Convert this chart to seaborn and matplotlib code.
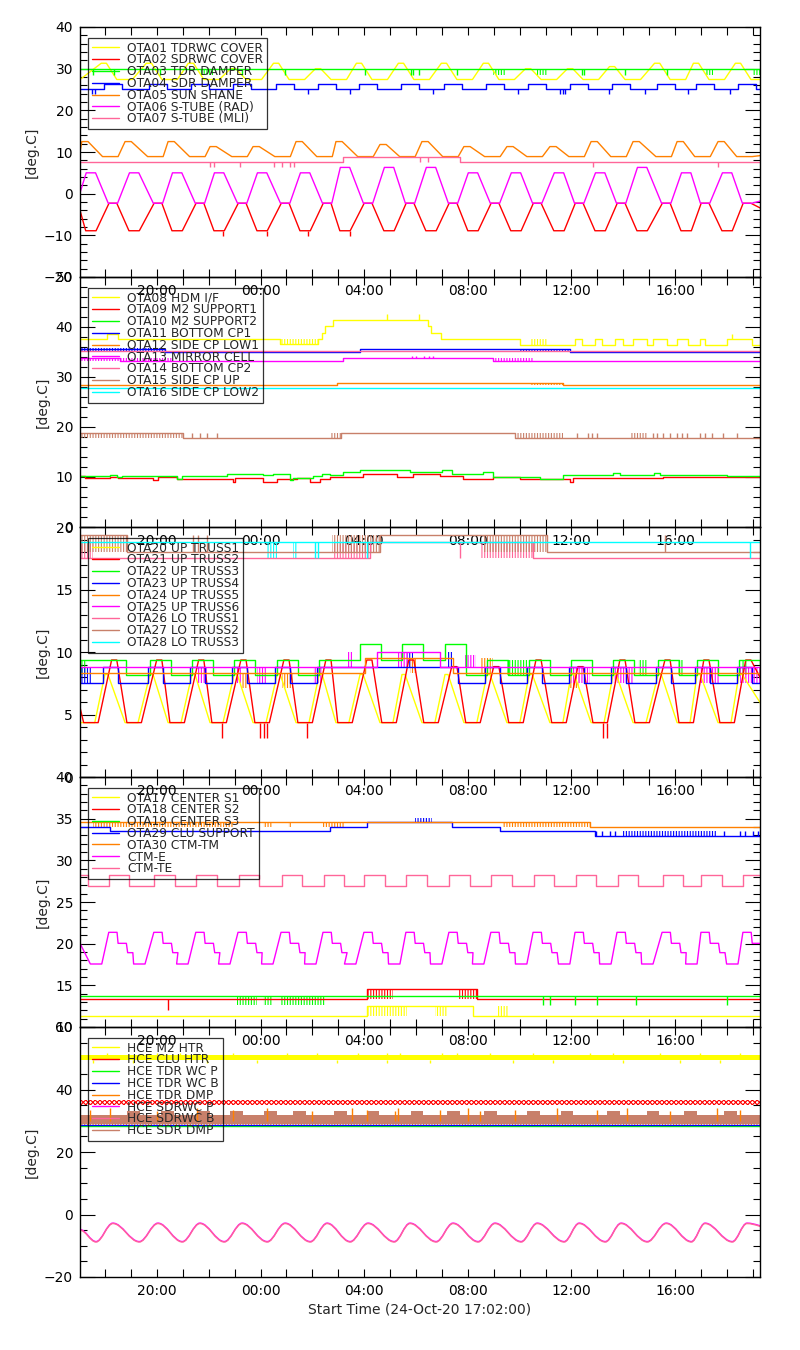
import numpy as np
import matplotlib
matplotlib.use("Agg")
import matplotlib.pyplot as plt
import seaborn as sns
from matplotlib.lines import Line2D
from matplotlib.path import Path
from matplotlib.patches import PathPatch
from matplotlib.ticker import MultipleLocator

# --- Config ---
OUT = "out.png"
XMIN, XMAX = 17.03, 43.28      # hours counted from 24-Oct 00:00
LW = 1.0

YEL = "#ffff00"
RED = "#ff0000"
GRN = "#00ff00"
BLU = "#0000ff"
ORG = "#ff8000"
MAG = "#ff00ff"
PNK = "#ff6699"
BRN = "#c8806a"
CYN = "#00ffff"

ORBIT_HI = [17.45, 19.12, 20.78, 22.40, 24.06, 25.72, 27.26, 28.96,
            30.58, 32.20, 33.86, 35.52, 37.11, 38.73, 40.43, 42.01]
ORBIT_LO = [18.30, 20.04, 21.66, 23.29, 24.95, 26.57, 28.15, 29.77,
            31.43, 33.05, 34.68, 36.30, 37.92, 39.66, 41.16, 42.78]

# ---------------- panel 1 ----------------
P1_NAMES = ["OTA01 TDRWC COVER", "OTA02 SDRWC COVER", "OTA03 TDR DAMPER",
            "OTA04 SDR DAMPER", "OTA05 SUN SHANE", "OTA06 S-TUBE (RAD)",
            "OTA07 S-TUBE (MLI)"]
P1_YEL_HI = [31.3, 31.3, 31.3, 30.0, 31.3, 30.0, 31.3, 31.3,
             31.3, 31.3, 30.0, 30.0, 30.5, 31.3, 31.3, 31.3]
P1_MAG_HI = [5.0, 5.0, 5.0, 5.0, 5.0, 5.0, 6.3, 6.3,
             6.3, 5.0, 5.0, 5.0, 5.0, 6.3, 5.0, 5.0]
P1_ORG_HI = [12.5, 12.5, 12.5, 11.3, 11.3, 12.5, 12.5, 11.8,
             12.5, 11.3, 11.3, 11.3, 12.5, 12.5, 12.5, 12.5]
P1_RED_DIP_T = [22.55, 24.25, 25.83, 27.45]
P1_GRN_NOISE = [(21.66, 22.16, 28.6, 29.85), (32.98, 33.44, 28.6, 29.85),
                (34.67, 35.06, 28.6, 29.85), (41.16, 41.47, 28.6, 29.85),
                (42.98, 43.28, 28.6, 29.85)]
P1_GRN_DIP_T = [17.53, 18.34, 20.12, 23.29, 24.95, 28.03, 29.80, 29.89,
                30.10, 31.59, 36.40, 36.50, 38.07, 39.69]
P1_BLU_DIP_T = [17.50, 17.60, 25.83, 27.45, 30.66, 33.94, 35.56, 35.66,
                35.76, 37.45, 38.84, 40.50, 42.13]
P1_PNK_T = [17.03, 27.19, 31.70]
P1_PNK_V = [7.7, 8.9, 7.7]
P1_PNK_DIP_T = [22.05, 22.20, 23.21, 24.52, 24.83, 25.14, 25.29, 36.84, 41.66]
P1_PNK_DIP2_T = [30.16, 30.47]

# ---------------- panel 2 ----------------
P2_NAMES = ["OTA08 HDM I/F", "OTA09 M2 SUPPORT1", "OTA10 M2 SUPPORT2",
            "OTA11 BOTTOM CP1", "OTA12 SIDE CP LOW1", "OTA13 MIRROR CELL",
            "OTA14 BOTTOM CP2", "OTA15 SIDE CP UP", "OTA16 SIDE CP LOW2"]
P2_YEL_T = [17.03, 18.07, 18.50, 24.75, 26.22, 26.37, 26.49, 26.80, 30.47,
            30.58, 30.97, 34.02, 36.14, 36.41, 36.91, 37.18, 37.68, 37.99,
            38.38, 38.92, 39.15, 39.69, 40.08, 40.50, 40.97, 41.16, 42.01, 42.98]
P2_YEL_V = [37.6, 38.7, 37.6, 36.6, 37.6, 38.8, 40.3, 41.5, 40.3,
            38.8, 37.6, 36.5, 37.6, 36.5, 37.6, 36.5, 37.6, 36.5,
            37.6, 36.5, 37.6, 36.5, 37.6, 36.5, 37.6, 36.5, 37.6, 36.5]
P2_YEL_NOISE = [(24.75, 26.22, 36.6, 37.7), (34.40, 35.10, 36.5, 37.6)]
P2_YEL_SPK = [(28.88, 41.5, 42.6), (30.12, 41.5, 42.6), (42.20, 37.6, 38.7)]
P2_RED_T = [17.03, 17.22, 18.19, 18.50, 19.85, 20.04, 20.77, 22.94, 23.01,
            24.10, 24.63, 25.41, 25.91, 26.30, 26.68, 27.96, 29.26, 29.90,
            30.93, 31.83, 32.99, 34.02, 35.95, 36.08, 39.55]
P2_RED_V = [10.2, 9.73, 10.07, 9.73, 9.4, 9.93, 9.53, 9.07, 9.73,
            9.07, 9.53, 9.73, 9.0, 9.53, 10.07, 10.6, 10.07, 10.6,
            10.2, 9.53, 10.07, 9.53, 9.0, 9.73, 9.93]
P2_GRN_T = [17.03, 18.19, 18.46, 18.65, 20.77, 20.96, 22.70, 24.10, 24.48,
            25.14, 25.25, 26.03, 26.37, 26.68, 27.18, 27.84, 29.77, 30.99,
            31.38, 32.60, 32.99, 34.79, 35.69, 37.62, 37.88, 39.17, 39.42, 42.00]
P2_GRN_V = [10.2, 10.4, 9.93, 10.2, 9.7, 10.2, 10.6, 10.4, 10.6,
            9.5, 9.9, 10.2, 10.6, 10.4, 11.07, 11.4, 11.07, 11.4,
            10.6, 11.07, 10.1, 9.7, 10.4, 10.9, 10.4, 10.9, 10.4, 10.2]
P2_BLU_T = [17.03, 20.31, 27.84, 35.95]
P2_BLU_V = [35.7, 35.1, 35.7, 35.1]
P2_BLU_NOISE = [(17.03, 20.31, 35.2, 35.8), (34.02, 35.95, 35.1, 35.7)]
P2_ORG_T = [17.03, 26.95, 35.68]
P2_ORG_V = [28.33, 28.73, 28.33]
P2_ORG_NOISE = [(34.40, 35.68, 28.33, 28.73)]
P2_MAG_T = [17.03, 18.57, 27.18, 32.99]
P2_MAG_V = [33.73, 33.2, 33.73, 33.2]
P2_MAG_NOISE = [(17.03, 20.60, 33.2, 33.73), (32.99, 34.52, 33.2, 33.73)]
P2_MAG_SPK_T = [29.85, 30.00, 30.30, 30.50, 30.65]
P2_PNK_V = 35.2
P2_BRN_T = [17.03, 21.01, 27.10, 33.83]
P2_BRN_V = [18.87, 17.73, 18.87, 17.73]
P2_BRN_NOISE = [(17.03, 21.01, 17.73, 18.87), (26.68, 27.10, 17.73, 18.87),
                (33.83, 35.68, 17.73, 18.87), (38.27, 38.92, 17.73, 18.87)]
P2_BRN_SPK_T = [21.35, 21.66, 21.93, 22.32, 36.22, 36.64, 36.80, 36.99, 39.15,
                39.30, 39.54, 39.81, 40.08, 40.25, 40.47, 40.97, 41.16, 41.43,
                41.86, 42.40]
P2_CYN_V = 27.73

# ---------------- panel 3 ----------------
P3_NAMES = ["OTA20 UP TRUSS1", "OTA21 UP TRUSS2", "OTA22 UP TRUSS3",
            "OTA23 UP TRUSS4", "OTA24 UP TRUSS5", "OTA25 UP TRUSS6",
            "OTA26 LO TRUSS1", "OTA27 LO TRUSS2", "OTA28 LO TRUSS3"]
P3_RED_HI = [9.36, 9.36, 9.36, 9.36, 9.36, 9.36, 9.36, 9.36,
             8.83, 8.83, 9.36, 8.83, 9.36, 9.36, 9.36, 9.36]
P3_RED_DIP_T = [22.51, 23.98, 24.12, 24.25, 25.79, 37.22, 37.38]
P3_GRN_HI = [9.36, 9.36, 9.36, 9.36, 9.36, 9.36, 10.61, 10.61,
             10.61, 9.36, 9.36, 9.36, 9.36, 9.36, 9.36, 9.36]
P3_GRN_LO = [8.16, 8.16, 8.16, 8.16, 8.16, 9.36, 9.36, 9.36,
             8.16, 8.16, 8.16, 8.16, 8.16, 8.16, 8.16, 8.16]
P3_GRN_NOISE = [(17.03, 17.30, 8.16, 9.36), (33.52, 34.29, 8.16, 9.36),
                (38.57, 38.92, 8.16, 9.36), (40.08, 40.31, 8.16, 9.36),
                (42.59, 42.82, 8.16, 9.36)]
P3_BLU_LO = [7.49, 7.49, 7.49, 7.49, 7.49, 8.83, 8.83, 8.83,
             7.49, 7.49, 7.49, 7.49, 7.49, 7.49, 7.49, 7.49]
P3_BLU_NOISE = [(17.03, 17.50, 7.49, 8.83), (29.66, 29.89, 8.83, 10.03),
                (31.20, 31.40, 8.83, 10.03)]
P3_ORG_T = [17.03, 28.03, 31.44]
P3_ORG_V = [8.29, 9.55, 8.29]
P3_ORG_NOISE = [(23.28, 23.52, 7.16, 8.29), (24.83, 25.25, 7.16, 8.29),
                (35.90, 36.30, 7.16, 8.29), (29.77, 30.04, 8.29, 9.55),
                (32.47, 32.98, 8.29, 9.55)]
P3_MAG_T = [17.03, 28.50, 30.93]
P3_MAG_V = [8.83, 10.03, 8.83]
P3_MAG_NOISE = [(21.55, 21.93, 7.49, 8.83), (23.10, 23.30, 7.49, 8.83),
                (23.86, 24.25, 7.49, 8.83), (26.03, 26.41, 7.49, 8.83),
                (27.34, 27.57, 8.83, 10.03), (29.30, 29.70, 8.83, 10.03),
                (31.90, 32.30, 8.83, 9.80), (35.95, 36.72, 7.49, 8.83),
                (37.61, 38.38, 7.49, 8.83), (40.97, 41.74, 7.49, 8.83),
                (42.51, 43.28, 7.49, 8.83)]
P3_PNK_T = [17.03, 28.23, 34.52]
P3_PNK_V = [17.49, 18.83, 17.49]
P3_PNK_NOISE = [(17.03, 17.53, 17.49, 18.83), (26.80, 28.23, 17.49, 18.83),
                (32.47, 34.52, 17.49, 18.83)]
P3_BRN_T = [17.03, 18.84, 28.61, 35.06]
P3_BRN_V = [19.36, 18.03, 19.36, 18.03]
P3_BRN_NOISE = [(17.03, 18.84, 18.03, 19.36), (26.76, 28.61, 18.03, 19.36),
                (32.59, 35.06, 18.03, 19.36)]
P3_BRN_SPK_T = [21.39, 21.60, 21.93, 39.62]
P3_CYN_V = 18.83
P3_CYN_NOISE = [(24.25, 24.67, 17.49, 18.83), (25.25, 25.45, 17.49, 18.83)]
P3_CYN_SPK_T = [26.10, 26.20, 28.11, 42.90]

# ---------------- panel 4 ----------------
P4_NAMES = ["OTA17 CENTER S1", "OTA18 CENTER S2", "OTA19 CENTER S3",
            "OTA29 CLU SUPPORT", "OTA30 CTM-TM", "CTM-E", "CTM-TE"]
P4_YEL_T = [17.03, 28.11, 32.20]
P4_YEL_V = [11.36, 12.56, 11.36]
P4_YEL_NOISE = [(28.11, 29.66, 11.36, 12.56), (30.74, 31.20, 11.36, 12.56),
                (33.13, 33.56, 11.36, 12.56)]
P4_RED_T = [17.03, 28.11, 32.36]
P4_RED_V = [13.32, 14.56, 13.32]
P4_RED_NOISE = [(28.11, 29.11, 13.32, 14.56), (31.62, 32.36, 13.32, 14.56)]
P4_GRN_V = 13.76
P4_GRN_NOISE = [(23.08, 23.85, 12.64, 13.76), (24.11, 24.49, 12.64, 13.76),
                (24.75, 26.49, 12.64, 13.76)]
P4_GRN_SPK_T = [34.90, 35.18, 36.14, 36.99, 38.50, 42.01]
P4_BLU_T = [17.03, 18.19, 26.68, 28.11, 31.40, 33.25, 36.91]
P4_BLU_V = [33.96, 33.52, 33.96, 34.56, 33.96, 33.52, 32.92]
P4_BLU_NOISE = [(38.00, 41.60, 32.92, 33.52), (29.96, 30.62, 34.56, 35.12)]
P4_BLU_SPK_T = [36.95, 37.20, 37.50, 37.70, 41.90, 42.50, 42.70, 43.00, 43.20]
P4_ORG_T = [17.03, 36.72]
P4_ORG_V = [34.64, 34.04]
P4_ORG_NOISE = [(17.53, 22.94, 34.04, 34.64), (24.10, 24.49, 34.04, 34.64),
                (25.06, 25.22, 34.04, 34.64), (26.37, 27.26, 34.04, 34.64),
                (33.36, 36.72, 34.04, 34.64)]

# ---------------- panel 5 ----------------
P5_NAMES = ["HCE M2 HTR", "HCE CLU HTR", "HCE TDR WC P", "HCE TDR WC B",
            "HCE TDR DMP", "HCE SDRWC P", "HCE SDRWC B", "HCE SDR DMP"]
P5_YEL_UP_T = [18.07, 20.00, 20.89, 22.94, 25.02, 26.18, 27.76, 28.88, 29.39,
               31.01, 31.59, 32.86, 34.52, 36.72, 37.61, 39.42, 40.97, 42.51]
P5_YEL_DN_T = [17.53, 19.08, 21.93, 23.86, 26.95, 28.88, 30.54, 33.75, 35.29,
               37.99, 40.20, 41.74]
P5_ORG_SPK_T = [17.42, 18.19, 20.00, 21.55, 22.94, 24.25, 25.99, 27.53, 28.11,
                29.19, 29.31, 30.93, 32.01, 32.47, 33.83, 35.45, 36.99, 38.15,
                39.81, 41.63, 42.51]
P5_ORG_SPK_V = [33.5, 34.2, 33.0, 34.2, 33.5, 34.2, 33.0, 34.2, 33.5,
                33.0, 34.2, 33.5, 34.2, 33.0, 33.5, 34.2, 33.5, 34.2,
                33.0, 34.2, 33.5]
P5_BRN_BLOB_T = [19.08, 20.39, 21.78, 23.08, 24.37, 25.52, 27.07, 28.34, 30.04,
                 31.43, 32.86, 34.52, 35.83, 37.61, 39.15, 40.58, 42.13]
P5_SINE_PEAK = -2.9
P5_SINE_TROUGH = -8.8


def shift(times, dt):
    return [t + dt for t in times]


def trace(groups, start, end):
    # plateaus (centre, value, half width) joined by straight ramps
    ev = []
    for times, vals, half in groups:
        if np.isscalar(vals):
            vals = [vals] * len(times)
        ev += [(t, v, half) for t, v in zip(times, vals)]
    ev.sort()
    t, v = [XMIN], [start]
    for c, val, h in ev:
        t += [c - h, c + h]
        v += [val, val]
    return t + [XMAX + 0.5], v + [end]


def square(centers, half, hi, lo, v0):
    n = len(centers)
    hi = [hi] * n if np.isscalar(hi) else hi
    lo = [lo] * n if np.isscalar(lo) else lo
    t, v = [XMIN - 1], [v0]
    for c, a, b in zip(centers, hi, lo):
        t += [c - half, c + half]
        v += [a, b]
    return t, v


def ramp(ax, tv, color):
    t, v = tv
    sns.lineplot(x=t, y=v, ax=ax, color=color, lw=LW, estimator=None, sort=False)


def steps(ax, t, v, color):
    if np.isscalar(v):
        t, v = [XMIN], [v]
    sns.lineplot(x=list(t) + [XMAX + 0.5], y=list(v) + [v[-1]], ax=ax, color=color,
                 lw=LW, drawstyle="steps-post", estimator=None, sort=False)


def noise(ax, blocks, color):
    # dense telemetry jitter drawn as a vertical hatch
    for t0, t1, lo, hi in blocks:
        ax.fill_between([t0, t1], lo, hi, facecolor="none", edgecolor=color,
                        hatch="||||||", lw=0)


def spikes(ax, times, lo, hi, color):
    ax.vlines(times, lo, hi, color=color, lw=LW)


def sine(ax, start, end, color, dv=0.0):
    ext = sorted([(t, P5_SINE_PEAK + dv) for t in ORBIT_LO] +
                 [(t, P5_SINE_TROUGH + dv) for t in shift(ORBIT_HI, 0.2)])
    pts = [(XMIN, start)] + ext + [(XMAX + 0.4, end)]
    verts, codes = [pts[0]], [Path.MOVETO]
    for (t0, v0), (t1, v1) in zip(pts[:-1], pts[1:]):
        dt = t1 - t0
        verts += [(t0 + 0.36 * dt, v0), (t1 - 0.36 * dt, v1), (t1, v1)]
        codes += [Path.CURVE4] * 3
    ax.add_patch(PathPatch(Path(verts, codes), facecolor="none", edgecolor=color, lw=LW))


def draw_p1(ax):
    ramp(ax, trace([(shift(ORBIT_LO, -0.35), P1_YEL_HI, 0.1),
                    (shift(ORBIT_LO, 0.45), 27.4, 0.3)], 27.4, 28.0), YEL)
    ramp(ax, trace([(ORBIT_LO, -2.3, 0.15), (ORBIT_HI, -8.9, 0.2)], -4.0, -5.0), RED)
    spikes(ax, P1_RED_DIP_T, -10.2, -8.9, RED)
    steps(ax, None, 29.85, GRN)
    noise(ax, P1_GRN_NOISE, GRN)
    spikes(ax, P1_GRN_DIP_T, 28.6, 29.85, GRN)
    t, v = square(ORBIT_LO, 0.35, 26.3, 25.1, 25.1)
    steps(ax, t, v, BLU)
    spikes(ax, P1_BLU_DIP_T, 24.0, 25.1, BLU)
    ramp(ax, trace([(shift(ORBIT_HI, -0.23), P1_ORG_HI, 0.12),
                    (shift(ORBIT_LO, -0.1), 8.9, 0.3)], 10.0, 9.5), ORG)
    ramp(ax, trace([(ORBIT_HI, P1_MAG_HI, 0.18), (ORBIT_LO, -2.3, 0.18)], 0.2, -1.0), MAG)
    steps(ax, P1_PNK_T, P1_PNK_V, PNK)
    spikes(ax, P1_PNK_DIP_T, 6.4, 7.7, PNK)
    spikes(ax, P1_PNK_DIP2_T, 7.7, 8.9, PNK)


def draw_p2(ax):
    steps(ax, P2_YEL_T, P2_YEL_V, YEL)
    noise(ax, P2_YEL_NOISE, YEL)
    for t, lo, hi in P2_YEL_SPK:
        spikes(ax, [t], lo, hi, YEL)
    steps(ax, P2_RED_T, P2_RED_V, RED)
    steps(ax, P2_GRN_T, P2_GRN_V, GRN)
    steps(ax, P2_BLU_T, P2_BLU_V, BLU)
    noise(ax, P2_BLU_NOISE, BLU)
    steps(ax, P2_ORG_T, P2_ORG_V, ORG)
    noise(ax, P2_ORG_NOISE, ORG)
    steps(ax, P2_MAG_T, P2_MAG_V, MAG)
    noise(ax, P2_MAG_NOISE, MAG)
    spikes(ax, P2_MAG_SPK_T, 33.73, 34.27, MAG)
    steps(ax, None, P2_PNK_V, PNK)
    steps(ax, P2_BRN_T, P2_BRN_V, BRN)
    noise(ax, P2_BRN_NOISE, BRN)
    spikes(ax, P2_BRN_SPK_T, 17.73, 18.87, BRN)
    steps(ax, None, P2_CYN_V, CYN)


def draw_p3(ax):
    ramp(ax, trace([(shift(ORBIT_HI, -0.1), 4.35, 0.25),
                    (shift(ORBIT_LO, -0.25), 8.2, 0.06)], 4.35, 4.35), YEL)
    ramp(ax, trace([(ORBIT_HI, 4.35, 0.28),
                    (shift(ORBIT_LO, 0.05), P3_RED_HI, 0.1)], 5.57, 6.0), RED)
    spikes(ax, P3_RED_DIP_T, 3.09, 4.35, RED)
    t, v = square(shift(ORBIT_LO, 0.1), 0.4, P3_GRN_HI, P3_GRN_LO, 9.36)
    steps(ax, t, v, GRN)
    noise(ax, P3_GRN_NOISE, GRN)
    t, v = square(shift(ORBIT_LO, -0.1), 0.3, 8.83, P3_BLU_LO, 7.49)
    steps(ax, t, v, BLU)
    noise(ax, P3_BLU_NOISE, BLU)
    steps(ax, P3_ORG_T, P3_ORG_V, ORG)
    noise(ax, P3_ORG_NOISE, ORG)
    steps(ax, P3_MAG_T, P3_MAG_V, MAG)
    noise(ax, P3_MAG_NOISE, MAG)
    steps(ax, P3_PNK_T, P3_PNK_V, PNK)
    noise(ax, P3_PNK_NOISE, PNK)
    spikes(ax, [31.70], 17.49, 18.83, PNK)
    steps(ax, P3_BRN_T, P3_BRN_V, BRN)
    noise(ax, P3_BRN_NOISE, BRN)
    spikes(ax, P3_BRN_SPK_T, 18.03, 19.36, BRN)
    steps(ax, None, P3_CYN_V, CYN)
    noise(ax, P3_CYN_NOISE, CYN)
    spikes(ax, P3_CYN_SPK_T, 17.49, 18.83, CYN)


def draw_p4(ax):
    steps(ax, P4_YEL_T, P4_YEL_V, YEL)
    noise(ax, P4_YEL_NOISE, YEL)
    steps(ax, P4_RED_T, P4_RED_V, RED)
    noise(ax, P4_RED_NOISE, RED)
    spikes(ax, [20.43], 12.0, 13.32, RED)
    steps(ax, None, P4_GRN_V, GRN)
    noise(ax, P4_GRN_NOISE, GRN)
    spikes(ax, P4_GRN_SPK_T, 12.64, 13.76, GRN)
    steps(ax, P4_BLU_T, P4_BLU_V, BLU)
    noise(ax, P4_BLU_NOISE, BLU)
    spikes(ax, P4_BLU_SPK_T, 32.92, 33.52, BLU)
    steps(ax, P4_ORG_T, P4_ORG_V, ORG)
    noise(ax, P4_ORG_NOISE, ORG)
    ramp(ax, trace([(ORBIT_LO, 21.36, 0.16), (shift(ORBIT_LO, 0.36), 20.04, 0.16),
                    (shift(ORBIT_LO, 0.67), 18.92, 0.1),
                    (shift(ORBIT_HI, 0.2), 17.56, 0.22)], 20.04, 18.92), MAG)
    t, v = square([16.95] + shift(ORBIT_LO, 0.25), 0.39, 28.2, 26.92, 26.92)
    steps(ax, t, v, PNK)


def draw_p5(ax):
    ax.fill_between([XMIN, XMAX], 49.4, 51.0, color=YEL, lw=0)
    spikes(ax, P5_YEL_UP_T, 51.0, 51.8, YEL)
    spikes(ax, P5_YEL_DN_T, 48.6, 49.4, YEL)
    ax.fill_between([XMIN, XMAX], 34.9, 36.6, facecolor="none", edgecolor=RED,
                    hatch="xxxxxxx", lw=0)
    steps(ax, None, 28.3, GRN)
    steps(ax, None, 28.7, BLU)
    ax.fill_between([XMIN, XMAX], 28.4, 30.6, facecolor="none", edgecolor=ORG,
                    hatch="||||||", lw=0)
    ax.vlines(P5_ORG_SPK_T, 30.0, P5_ORG_SPK_V, color=ORG, lw=LW)
    sine(ax, -4.8, -4.2, MAG, dv=0.15)
    sine(ax, -5.0, -4.4, PNK)
    ax.fill_between([XMIN, XMAX], 28.9, 31.8, color=BRN, lw=0)
    for t in P5_BRN_BLOB_T:
        ax.fill_between([t - 0.25, t + 0.25], 28.9, 33.0, color=BRN, lw=0)


def style_axes(ax, ylim, major, minor):
    ax.set_xlim(XMIN, XMAX)
    ax.set_ylim(*ylim)
    hours = list(range(18, 44))
    ax.set_xticks(hours)
    ax.set_xticklabels([f"{h % 24:02d}:00" if h % 4 == 0 else "" for h in hours])
    ax.yaxis.set_major_locator(MultipleLocator(major))
    ax.yaxis.set_minor_locator(MultipleLocator(minor))
    ax.tick_params(axis="x", which="major", direction="in", length=6, width=0.8,
                   top=True, bottom=True, labelsize=10, pad=5, colors="black")
    ax.tick_params(axis="y", which="major", direction="in", length=11, width=0.8,
                   left=True, right=True, labelsize=10, pad=5, colors="black")
    ax.tick_params(axis="y", which="minor", direction="in", length=5, width=0.8,
                   left=True, right=True, colors="black")
    ax.set_ylabel("[deg.C]", fontsize=10, labelpad=4)
    ax.set_xlabel("")
    ax.set_facecolor("none")
    for s in ax.spines.values():
        s.set_linewidth(1.0)
        s.set_color("black")


def add_legend(ax, names, colors):
    handles = [Line2D([], [], color=c, lw=LW) for c in colors]
    leg = ax.legend(handles, names, loc="upper left", bbox_to_anchor=(0.012, 0.956),
                    borderaxespad=0, fontsize=8.8, frameon=True, fancybox=False,
                    edgecolor="black", borderpad=0.3, handlelength=2.2,
                    handletextpad=0.7, labelspacing=-0.1)
    leg.get_frame().set_facecolor("none")
    leg.get_frame().set_linewidth(0.9)


def main():
    sns.set_style("white")
    plt.rcParams["font.family"] = ["DejaVu Sans"]
    plt.rcParams["hatch.linewidth"] = 0.8

    fig = plt.figure(figsize=(8, 13.5), dpi=100)
    panels = [
        (draw_p1, (-20, 40), 10, 2, P1_NAMES, [YEL, RED, GRN, BLU, ORG, MAG, PNK]),
        (draw_p2, (0, 50), 10, 2, P2_NAMES, [YEL, RED, GRN, BLU, ORG, MAG, PNK, BRN, CYN]),
        (draw_p3, (0, 20), 5, 1, P3_NAMES, [YEL, RED, GRN, BLU, ORG, MAG, PNK, BRN, CYN]),
        (draw_p4, (10, 40), 5, 1, P4_NAMES, [YEL, RED, GRN, BLU, ORG, MAG, PNK]),
        (draw_p5, (-20, 60), 20, 5, P5_NAMES, [YEL, RED, GRN, BLU, ORG, MAG, PNK, BRN]),
    ]
    h = 250 / 1350
    for i, (draw, ylim, major, minor, names, colors) in enumerate(panels):
        bottom = 1 - (277 + 250 * i) / 1350
        ax = fig.add_axes([0.1, bottom, 0.85, h])
        draw(ax)
        style_axes(ax, ylim, major, minor)
        add_legend(ax, names, colors)
        if i == len(panels) - 1:
            ax.set_xlabel("Start Time (24-Oct-20 17:02:00)", fontsize=10, labelpad=3)

    fig.savefig(OUT, dpi=100, facecolor="white")
    plt.close(fig)


if __name__ == "__main__":
    main()
